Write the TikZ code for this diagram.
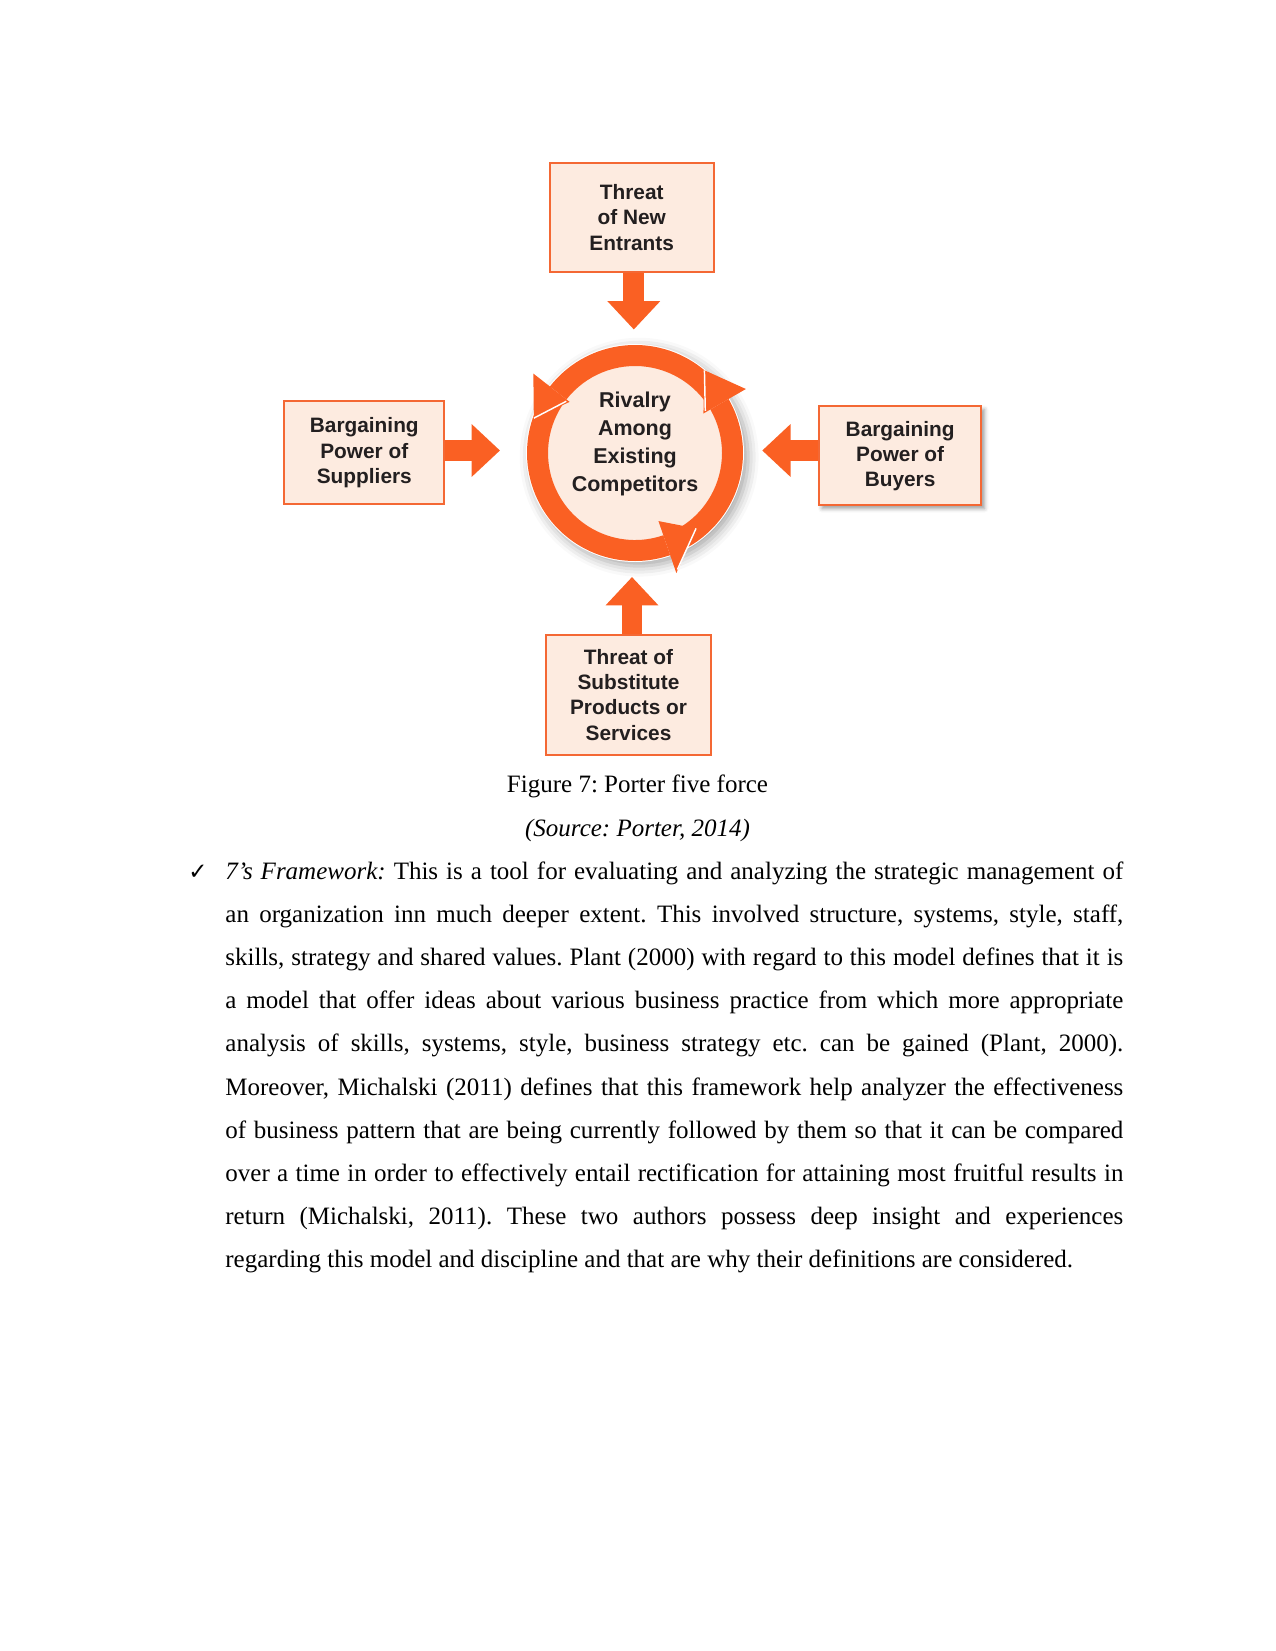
\documentclass[tikz,border=0pt]{standalone}
\usepackage{fontspec}
\setmainfont{Liberation Serif}
\newfontfamily\boxfont{Liberation Sans}
\newfontfamily\symfont{DejaVu Sans}
\usetikzlibrary{arrows.meta,shadows.blur}
\definecolor{arrorange}{RGB}{250,96,35}
\definecolor{boxborder}{RGB}{244,104,52}
\definecolor{boxfill}{RGB}{253,235,224}
\definecolor{boxtext}{RGB}{35,31,32}
\newcommand{\ringseg}[2]{\fill[arrorange] (#1:108) arc[start angle=#1, end angle=#2, radius=108] -- (#2:87) arc[start angle=#2, end angle=#1, radius=87] -- cycle;}
\frenchspacing
\begin{document}
\begin{tikzpicture}[x=0.48pt,y=-0.48pt,
  forcebox/.style={draw=boxborder, line width=1pt, fill=boxfill, inner sep=0pt, align=center,
    font=\boxfont\bfseries\fontsize{10}{12.1}\selectfont, text=boxtext},
  blockarrow/.style={draw=arrorange, line width=10pt, -{Triangle[width=24.5pt,length=13.6pt]}},
  bodyline/.style={anchor=base west, inner sep=0pt, font=\fontsize{12}{14}\selectfont},
  captionline/.style={anchor=base, inner sep=0pt, font=\fontsize{12}{14}\selectfont},
  sepline/.style={draw=white, line width=0.7pt},
]
\useasboundingbox (0,0) rectangle (1275,1651);

% ---- central ring ----
\begin{scope}[shift={(635,453)}]
  \fill[white, blur shadow={shadow xshift=2pt, shadow yshift=-2pt, shadow blur radius=5pt, shadow opacity=35}] (0,0) circle (109);
  \fill[boxfill] (0,0) circle (95);
  \ringseg{328}{218}
  \ringseg{216}{71}
  \ringseg{68}{-30}
  \fill[arrorange] (218:83) -- (218:129) -- (199:107) -- cycle;
  \draw[sepline] (199:107) -- (217:86);
  \fill[arrorange] (330:79) -- (330:128) -- (310:108) -- cycle;
  \draw[sepline] (310:108) -- (329:82);
  \fill[arrorange] (71:72) -- (71:127) -- (51:97) -- cycle;
  \draw[sepline] (51:97) -- (70:124);
\end{scope}

\node[inner sep=0pt, align=center, text=boxtext,
  font=\boxfont\bfseries\fontsize{10.3}{13.3}\selectfont] (rival) at (635,444)
  {Rivalry\\Among\\Existing\\Competitors};

% ---- force boxes ----
\node[forcebox, minimum width=78.8pt, minimum height=52pt] (entrants) at (631.7,217.4)
  {Threat\\of New\\Entrants};
\node[forcebox, minimum width=76.8pt, minimum height=49.5pt] (suppliers) at (364.3,452.7)
  {Bargaining\\Power of\\Suppliers};
\node[forcebox, minimum width=77.9pt, minimum height=47.5pt,
  blur shadow={shadow xshift=1.5pt, shadow yshift=-1.5pt, shadow blur radius=2pt, shadow opacity=40}]
  (buyers) at (900.1,455.9) {Bargaining\\Power of\\Buyers};
\node[forcebox, minimum width=78.8pt, minimum height=57.6pt] (substitutes) at (628.5,694.9)
  {Threat of\\Substitute\\Products or\\Services};

% ---- block arrows ----
\coordinate (tipN) at (633.8,329.5);
\coordinate (tipW) at (500,450.5);
\coordinate (tipE) at (762.2,450.5);
\coordinate (tipS) at (632,577);
\draw[blockarrow] (tipN |- entrants.south) -- (tipN);
\draw[blockarrow] (suppliers.east |- tipW) -- (tipW);
\draw[blockarrow] (buyers.west |- tipE) -- (tipE);
\draw[blockarrow] (tipS |- substitutes.north) -- (tipS);

% ---- caption ----
\node[captionline] (cap) at (637.5,792.8) {Figure 7: Porter five force};
\node[captionline] (src) at (637.5,836) {\textit{(Source: Porter, 2014)}};

% ---- body text ----
\node[anchor=base west, inner sep=0pt, font=\symfont\fontsize{11}{14}\selectfont] (tick) at (188,879) {✓};
\node[bodyline] (l1) at (225,879) {\makebox[431pt][s]{\textit{7’s Framework:} This is a tool for evaluating and analyzing the strategic management of}};
\node[bodyline] (l2) at (225,922.2) {\makebox[431pt][s]{an organization inn much deeper extent. This involved structure, systems, style, staff,}};
\node[bodyline] (l3) at (225,965.4) {\makebox[431pt][s]{skills, strategy and shared values. Plant (2000) with regard to this model defines that it is}};
\node[bodyline] (l4) at (225,1008.6) {\makebox[431pt][s]{a model that offer ideas about various business practice from which more appropriate}};
\node[bodyline] (l5) at (225,1051.8) {\makebox[431pt][s]{analysis of skills, systems, style, business strategy etc. can be gained (Plant, 2000).}};
\node[bodyline] (l6) at (225,1095) {\makebox[431pt][s]{Moreover, Michalski (2011) defines that this framework help analyzer the effectiveness}};
\node[bodyline] (l7) at (225,1138.2) {\makebox[431pt][s]{of business pattern that are being currently followed by them so that it can be compared}};
\node[bodyline] (l8) at (225,1181.4) {\makebox[431pt][s]{over a time in order to effectively entail rectification for attaining most fruitful results in}};
\node[bodyline] (l9) at (225,1224.6) {\makebox[431pt][s]{return (Michalski, 2011). These two authors possess deep insight and experiences}};
\node[bodyline] (l10) at (225,1267.8) {regarding this model and discipline and that are why their definitions are considered.};
\end{tikzpicture}
\end{document}
